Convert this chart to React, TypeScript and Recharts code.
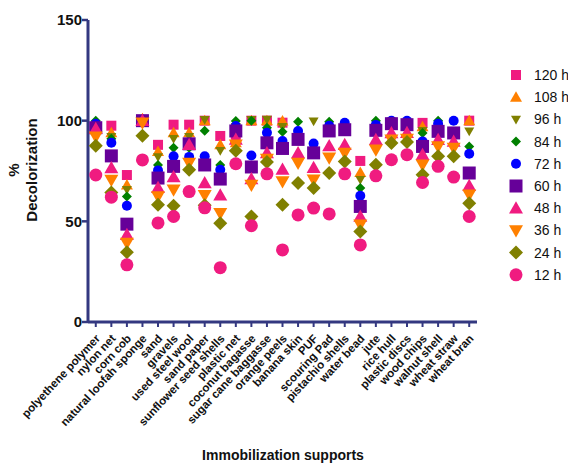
import { ScatterChart, Scatter, XAxis, YAxis } from "recharts";

const categories = [
  "polyethene polymer", "nylon net", "corn cob", "natural loofah sponge", "sand",
  "gravels", "used steel wool", "sand paper", "sunflower seed shells", "plastic net",
  "coconut bagasse", "sugar cane baggasse", "orange peels", "banana skin", "PUF",
  "scouring Pad", "pistachio shells", "water bead", "jute", "rice hull",
  "plastic discs", "wood chips", "walnut shell", "wheat straw", "wheat bran",
];

const h120 = [96.5, 97.5, 73, 100, 88, 98, 98, 100, 92.4, 93, 100, 100, 99, 91, 84, 95, 95.5, 80, 96, 98.5, 98, 98.9, 95, 94, 100];
const h108 = [96.5, 94, 68, 101, 84.7, 94, 94, 100, 88, 89, 100, 100, 99.8, 91, 84, 95, 95.5, 74.3, 96, 98.5, 98, 97, 95, 94, 100];
const h96 = [96.5, 92, 65.7, 100, 82, 91, 92, 100.5, 85, 97, 100.5, 100.6, 97, 91, 99.7, 95, 95.5, 70.6, 96, 98.5, 98, 95, 95, 94, 94.7];
const h84 = [100, 91, 62.3, 100, 78, 86.5, 86.5, 95, 78, 99.8, 100, 96.5, 94.5, 99.5, 84, 99.5, 95.5, 66.5, 100, 98.5, 98, 93.9, 100, 94, 87.2];
const h72 = [98.5, 89, 57.7, 100, 75.3, 82.3, 82, 82.3, 75.6, 97.3, 82.7, 94, 89.9, 94.9, 88.6, 97.5, 99, 62.7, 97.9, 100, 100, 89.7, 98.5, 100, 83.6];
const h60 = [96.5, 82.5, 48.6, 100, 71.5, 77.3, 88.5, 78, 71, 94.9, 77, 89, 86.2, 90.7, 84, 94.9, 95.5, 57.4, 95.2, 98.5, 98, 87.2, 94.7, 93.9, 74];
const h48 = [96, 76.5, 43.3, 100, 66.7, 72, 88, 69, 63, 90.7, 71, 84, 75.7, 84, 76.6, 87.4, 88, 52.4, 90.5, 93.9, 94, 83.1, 90.5, 89.7, 67.7];
const h36 = [92, 70.5, 39.3, 99, 62.3, 65.7, 79, 63, 54, 88, 68, 81, 69.8, 79, 70.6, 81.6, 84, 48.3, 85.6, 90.5, 90.9, 78.1, 87.2, 86.4, 63.2];
const h24 = [87.5, 64.3, 34.7, 92.5, 58.2, 57.7, 75.6, 58, 49, 85, 52.4, 79.5, 58.2, 69, 66.5, 74, 79.7, 44.9, 78.1, 88.9, 89.4, 73.1, 82.3, 82.3, 59];
const h12 = [73, 62, 28.4, 80.5, 49.2, 52.4, 64.8, 56.7, 27, 78.6, 47.8, 73.6, 35.8, 53.2, 56.6, 53.7, 73.6, 38.3, 72.6, 80.6, 83.1, 69.3, 77.3, 72, 52.4];

const yTicks = [0, 50, 100, 150];

const PINK = "#f01b80";
const ORANGE = "#ff8000";
const OLIVE = "#808000";
const GREEN = "#008000";
const BLUE = "#0000ff";
const PURPLE = "#660099";
const NAVY = "#333880";
const FONT = "'Liberation Sans', Arial, sans-serif";

type Shape = "square" | "up" | "down" | "diamond" | "circle";

const series: { name: string; values: number[]; color: string; shape: Shape; size: number }[] = [
  { name: "120 h", values: h120, color: PINK, shape: "square", size: 10 },
  { name: "108 h", values: h108, color: ORANGE, shape: "up", size: 12 },
  { name: "96 h", values: h96, color: OLIVE, shape: "down", size: 10 },
  { name: "84 h", values: h84, color: GREEN, shape: "diamond", size: 10 },
  { name: "72 h", values: h72, color: BLUE, shape: "circle", size: 10 },
  { name: "60 h", values: h60, color: PURPLE, shape: "square", size: 13 },
  { name: "48 h", values: h48, color: PINK, shape: "up", size: 14 },
  { name: "36 h", values: h36, color: ORANGE, shape: "down", size: 14 },
  { name: "24 h", values: h24, color: OLIVE, shape: "diamond", size: 14 },
  { name: "12 h", values: h12, color: PINK, shape: "circle", size: 13 },
];

function Marker({ cx, cy, shape, size, color }: { cx: number; cy: number; shape: Shape; size: number; color: string }) {
  const r = size / 2;
  if (cx == null || cy == null) return null;
  switch (shape) {
    case "square":
      return <rect x={cx - r} y={cy - r} width={size} height={size} fill={color} />;
    case "up":
      return <polygon points={`${cx},${cy - r} ${cx + r},${cy + r * 0.75} ${cx - r},${cy + r * 0.75}`} fill={color} />;
    case "down":
      return <polygon points={`${cx},${cy + r} ${cx + r},${cy - r * 0.75} ${cx - r},${cy - r * 0.75}`} fill={color} />;
    case "diamond":
      return <polygon points={`${cx},${cy - r} ${cx + r},${cy} ${cx},${cy + r} ${cx - r},${cy}`} fill={color} />;
    default:
      return <circle cx={cx} cy={cy} r={r} fill={color} />;
  }
}

function CategoryTick(props: any) {
  const { x, y, payload } = props;
  const tx = x + 5;
  const ty = y + 12;
  return (
    <text
      x={tx}
      y={ty}
      transform={`rotate(-47, ${tx}, ${ty})`}
      textAnchor="end"
      fontFamily={FONT}
      fontWeight="bold"
      fontSize={11.5}
      fill="#111"
    >
      {categories[payload.value]}
    </text>
  );
}

function Legend() {
  return (
    <svg width={568} height={464} style={{ position: "absolute", left: 0, top: 0, pointerEvents: "none" }}>
      {series.map((s, i) => {
        const cy = 75 + i * 22.2;
        return (
          <g key={s.name}>
            <Marker cx={516} cy={cy} shape={s.shape} size={s.size} color={s.color} />
            <text x={534} y={cy + 5} fontFamily={FONT} fontSize={14} fill="#111">
              {s.name}
            </text>
          </g>
        );
      })}
    </svg>
  );
}

export default function App() {
  return (
    <div style={{ position: "absolute", left: 0, top: 0, width: 568, height: 464, background: "#fff" }}>
      <ScatterChart width={568} height={464} margin={{ top: 20, right: 91, bottom: 0, left: 0 }}>
        <XAxis
          type="number"
          dataKey="x"
          domain={[-0.5, categories.length - 0.5]}
          ticks={categories.map((_, i) => i)}
          interval={0}
          height={142}
          tick={<CategoryTick />}
          tickSize={5}
          tickMargin={0}
          axisLine={{ stroke: NAVY, strokeWidth: 3 }}
          tickLine={{ stroke: NAVY, strokeWidth: 2 }}
          label={{
            content: () => (
              <text x={283} y={460} textAnchor="middle" fontFamily={FONT} fontWeight="bold" fontSize={14} fill="#111">
                Immobilization supports
              </text>
            ),
          }}
        />
        <YAxis
          type="number"
          dataKey="y"
          domain={[0, 150]}
          ticks={yTicks}
          width={88}
          tickSize={6}
          tickMargin={0}
          axisLine={{ stroke: NAVY, strokeWidth: 3 }}
          tickLine={{ stroke: NAVY, strokeWidth: 2.5 }}
          tick={{ fontFamily: FONT, fontWeight: "bold", fontSize: 15, fill: "#111" }}
          label={{
            content: () => (
              <g fontFamily={FONT} fontWeight="bold" fontSize={15} fill="#111" textAnchor="middle">
                <text transform="translate(19,170) rotate(-90)">%</text>
                <text transform="translate(37,170) rotate(-90)">Decolorization</text>
              </g>
            ),
          }}
        />
        {series.map((s) => (
          <Scatter
            key={s.name}
            name={s.name}
            data={s.values.map((v, i) => ({ x: i, y: v }))}
            isAnimationActive={false}
            shape={(p: any) => <Marker cx={p.cx} cy={p.cy} shape={s.shape} size={s.size} color={s.color} />}
          />
        ))}
      </ScatterChart>
      <Legend />
    </div>
  );
}
